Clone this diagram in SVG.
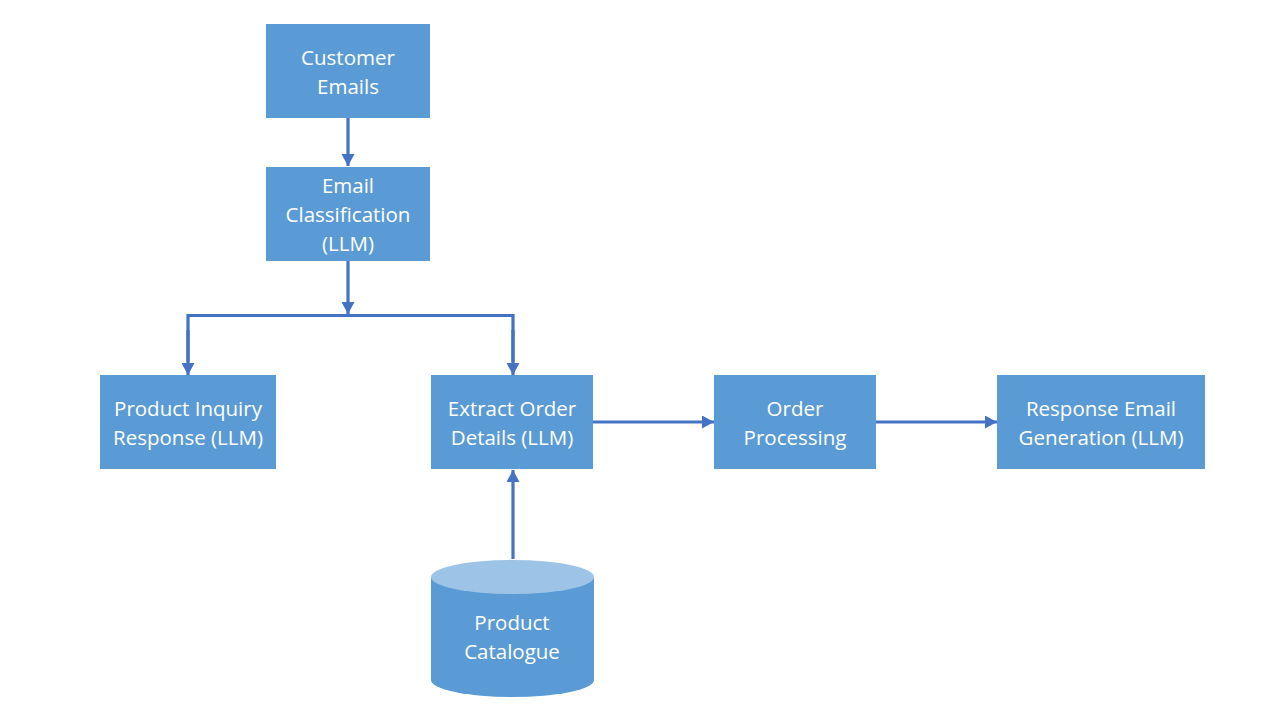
<svg xmlns="http://www.w3.org/2000/svg" width="1280" height="720" viewBox="0 0 1280 720">
<style>
.box{fill:#5B9BD5;}
.lbl{font-family:"Open Sans","Liberation Sans",sans-serif;font-size:20.5px;fill:#FFFFFF;text-anchor:middle;}
.con{stroke:#4472C4;stroke-width:3.2;fill:none;}
</style>
<defs>
<marker id="arr" markerUnits="userSpaceOnUse" markerWidth="13" markerHeight="13" refX="12" refY="6.5" orient="auto">
<path d="M0,0 L12,6.5 L0,13 z" fill="#4472C4"/>
</marker>
</defs>
<rect width="1280" height="720" fill="#FFFFFF"/>
<g id="connectors">
<line class="con" x1="348" y1="118" x2="348" y2="166" marker-end="url(#arr)"/>
<line class="con" x1="348" y1="261" x2="348" y2="314" marker-end="url(#arr)"/>
<polyline class="con" points="188,362 188,315.5 513,315.5 513,362"/>
<line class="con" x1="188" y1="330" x2="188" y2="375" marker-end="url(#arr)"/>
<line class="con" x1="513" y1="330" x2="513" y2="375" marker-end="url(#arr)"/>
<line class="con" x1="593" y1="422" x2="714" y2="422" marker-end="url(#arr)"/>
<line class="con" x1="876" y1="422" x2="997" y2="422" marker-end="url(#arr)"/>
<line class="con" x1="513" y1="559" x2="513" y2="470" marker-end="url(#arr)"/>
</g>
<g id="customer-emails">
<rect class="box" x="266" y="24" width="164" height="94"/>
<text class="lbl" x="348" y="65">Customer</text>
<text class="lbl" x="348" y="94">Emails</text>
</g>
<g id="email-classification">
<rect class="box" x="266" y="167" width="164" height="94"/>
<text class="lbl" x="348" y="193">Email</text>
<text class="lbl" x="348" y="222">Classification</text>
<text class="lbl" x="348" y="251">(LLM)</text>
</g>
<g id="product-inquiry">
<rect class="box" x="100" y="375" width="176" height="94"/>
<text class="lbl" x="188" y="416">Product Inquiry</text>
<text class="lbl" x="188" y="445">Response (LLM)</text>
</g>
<g id="extract-order">
<rect class="box" x="431" y="375" width="162" height="94"/>
<text class="lbl" x="512" y="416">Extract Order</text>
<text class="lbl" x="512" y="445">Details (LLM)</text>
</g>
<g id="order-processing">
<rect class="box" x="714" y="375" width="162" height="94"/>
<text class="lbl" x="795" y="416">Order</text>
<text class="lbl" x="795" y="445">Processing</text>
</g>
<g id="response-email">
<rect class="box" x="997" y="375" width="208" height="94"/>
<text class="lbl" x="1101" y="416">Response Email</text>
<text class="lbl" x="1101" y="445">Generation (LLM)</text>
</g>
<g id="product-catalogue">
<path class="box" d="M431,577 L431,680 A81.5,17 0 0 0 594,680 L594,577 Z"/>
<ellipse cx="512.5" cy="577" rx="81.5" ry="17" fill="#9DC3E6"/>
<text class="lbl" x="512" y="630">Product</text>
<text class="lbl" x="512" y="659">Catalogue</text>
</g>
</svg>
